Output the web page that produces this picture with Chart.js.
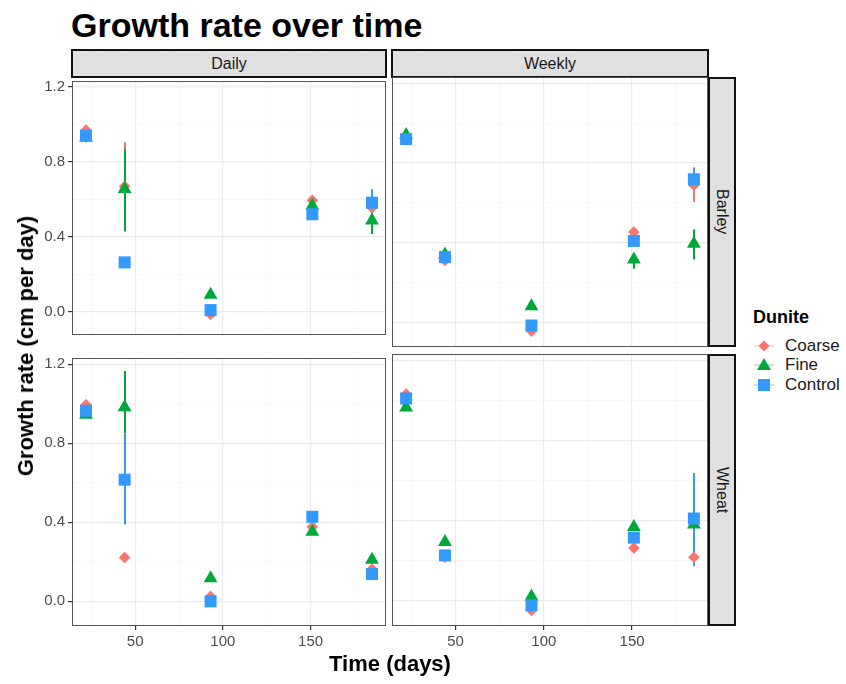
<!DOCTYPE html>
<html>
<head>
<meta charset="utf-8">
<script src="https://cdn.jsdelivr.net/npm/chart.js@4.4.1/dist/chart.umd.min.js"></script>
<style>
  body { margin: 0; background: #fff; font-family: "Liberation Sans", Arial, sans-serif; }
  #wrap { position: relative; width: 846px; height: 684px; overflow: hidden; }
  canvas { position: absolute; }
  .txt { position: absolute; white-space: nowrap; color: #000; }
  .title { left: 71px; top: 8px; font-size: 34px; line-height: 34px; font-weight: bold; }
  .strip { position: absolute; box-sizing: border-box; background: #E0E0E0; border: 2px solid #111;
           display: flex; align-items: center; justify-content: center; font-size: 16px; color: #1a1a1a; }
  .strip.side { writing-mode: vertical-rl; }
  .ytitle { left: 26px; top: 346px; font-size: 22px; font-weight: bold;
            transform: translate(-50%, -50%) rotate(-90deg); }
  .xtitle { left: 390px; top: 664px; font-size: 22px; font-weight: bold; transform: translate(-50%, -50%); }
  .legtitle { left: 753px; top: 306px; font-size: 18px; line-height: 22px; font-weight: bold; }
  .legrow { position: absolute; left: 752px; height: 20px; }
  .legrow svg { position: absolute; left: 0; top: 0; }
  .legrow span { position: absolute; left: 33px; top: 0; line-height: 20px; font-size: 17px; color: #1a1a1a; white-space: nowrap; }
</style>
</head>
<body>
<div id="wrap">
  <div class="txt title">Growth rate over time</div>

  <div class="strip" style="left:71px; top:49px; width:316px; height:29px;">Daily</div>
  <div class="strip" style="left:391px; top:49px; width:318px; height:29px;">Weekly</div>
  <div class="strip side" style="left:708px; top:77px; width:28px; height:270px;">Barley</div>
  <div class="strip side" style="left:708px; top:354px; width:28px; height:272px;">Wheat</div>

  <canvas id="dailyBarley"></canvas>
  <canvas id="weeklyBarley"></canvas>
  <canvas id="dailyWheat"></canvas>
  <canvas id="weeklyWheat"></canvas>

  <div class="txt ytitle">Growth rate (cm per day)</div>
  <div class="txt xtitle">Time (days)</div>

  <div class="txt legtitle">Dunite</div>
  <div id="legend"></div>
</div>

<script>
// 측정 시점 (days)
const days = [22, 44, 93, 151, 185];
const seriesNames = ['Coarse', 'Fine', 'Control'];
const seriesColors = ['#F8766D', '#00A83A', '#3399FF'];

// 축 눈금
const yGridTicks = [0, 0.2, 0.4, 0.6, 0.8, 1.0, 1.2];
const yLabelTicks = [0, 0.4, 0.8, 1.2];
const xGridTicks = [25, 50, 75, 100, 125, 150, 175];
const xLabelTicks = [50, 100, 150];

// Daily / Barley
const dailyBarleyCoarse = [0.97, 0.67, -0.015, 0.595, 0.555];
const dailyBarleyFine = [0.93, 0.655, 0.09, 0.565, 0.487];
const dailyBarleyControl = [0.94, 0.263, 0.008, 0.52, 0.582];
// Weekly / Barley
const weeklyBarleyCoarse = [0.925, 0.31, -0.045, 0.453, 0.688];
const weeklyBarleyFine = [0.94, 0.34, 0.08, 0.315, 0.394];
const weeklyBarleyControl = [0.92, 0.327, -0.017, 0.408, 0.718];
// Daily / Wheat
const dailyWheatCoarse = [0.995, 0.222, 0.025, 0.378, 0.163];
const dailyWheatFine = [0.945, 0.982, 0.117, 0.352, 0.21];
const dailyWheatControl = [0.965, 0.616, 0.0, 0.428, 0.138];
// Weekly / Wheat
const weeklyWheatCoarse = [1.032, 0.218, -0.047, 0.264, 0.218];
const weeklyWheatFine = [0.965, 0.294, 0.022, 0.369, 0.381];
const weeklyWheatControl = [1.01, 0.227, -0.022, 0.316, 0.411];

// 오차 막대 [low, high] (보이지 않으면 null)
const dailyBarleyCoarseErr = [null, [0.44, 0.905], null, null, null];
const dailyBarleyFineErr = [[0.905, 0.95], [0.428, 0.872], null, null, [0.414, 0.53]];
const dailyBarleyControlErr = [null, null, null, null, [0.55, 0.654]];
const weeklyBarleyCoarseErr = [null, null, null, null, [0.604, 0.72]];
const weeklyBarleyFineErr = [null, null, null, [0.268, 0.34], [0.315, 0.465]];
const weeklyBarleyControlErr = [null, null, null, null, [0.69, 0.777]];
const dailyWheatCoarseErr = [null, null, null, null, null];
const dailyWheatFineErr = [null, [0.85, 1.166], null, null, null];
const dailyWheatControlErr = [null, [0.389, 0.85], null, null, null];
const weeklyWheatCoarseErr = [null, null, null, null, [0.173, 0.26]];
const weeklyWheatFineErr = [null, null, null, null, null];
const weeklyWheatControlErr = [null, null, null, null, [0.176, 0.638]];

const pointStyles = ['rectRot', 'triangle', 'rect'];
const pointSizes = [5.8, 8, 8.5];

// 오차 막대 플러그인
const errorBars = {
    id: 'errorBars',
    beforeDatasetsDraw(chart) {
        const ctx = chart.ctx;
        const xs = chart.scales.x, ys = chart.scales.y;
        ctx.save();
        chart.data.datasets.forEach(ds => {
            ds.err.forEach((e, j) => {
                if (!e) return;
                const px = Math.round(xs.getPixelForValue(days[j]));
                ctx.strokeStyle = ds.backgroundColor;
                ctx.lineWidth = 2;
                ctx.beginPath();
                ctx.moveTo(px, ys.getPixelForValue(e[0]));
                ctx.lineTo(px, ys.getPixelForValue(e[1]));
                ctx.stroke();
            });
        });
        ctx.restore();
    }
};

// 패널 테두리
const panelBorder = {
    id: 'panelBorder',
    afterDraw(chart) {
        const a = chart.chartArea, ctx = chart.ctx;
        ctx.save();
        ctx.strokeStyle = '#555';
        ctx.lineWidth = 1;
        ctx.strokeRect(Math.round(a.left) + 0.5, Math.round(a.top) + 0.5,
                       Math.round(a.right - a.left) - 1, Math.round(a.bottom - a.top) - 1);
        ctx.restore();
    }
};

function makePanel(id, rect, showY, showX, values, errs) {
    const axisW = showY ? 42 : 0;
    const axisH = showX ? 28 : 0;
    const padTop = 8, padRight = 2;
    const w = rect.w + axisW + padRight;
    const h = rect.h + padTop + axisH;
    const cv = document.getElementById(id);
    cv.style.left = (rect.x - axisW) + 'px';
    cv.style.top = (rect.y - padTop) + 'px';
    cv.width = w; cv.height = h;
    cv.style.width = w + 'px'; cv.style.height = h + 'px';

    const majorX = v => xLabelTicks.includes(v);
    const majorY = v => yLabelTicks.includes(v);

    new Chart(cv, {
        type: 'scatter',
        data: {
            datasets: values.map((vals, i) => ({
                label: seriesNames[i],
                data: days.map((d, j) => ({ x: d, y: vals[j] })),
                err: errs[i],
                backgroundColor: seriesColors[i],
                borderWidth: 0,
                pointStyle: pointStyles[i],
                pointRadius: pointSizes[i],
                pointHoverRadius: pointSizes[i],
                order: 3 - i
            }))
        },
        options: {
            responsive: false,
            animation: false,
            events: [],
            layout: { autoPadding: false, padding: { top: padTop, right: padRight, left: 0, bottom: 0 } },
            plugins: { legend: { display: false }, tooltip: { enabled: false } },
            scales: {
                x: {
                    type: 'linear', min: 14, max: 193,
                    afterBuildTicks: a => { a.ticks = xGridTicks.map(v => ({ value: v })); },
                    afterFit: a => { a.height = axisH; },
                    border: { display: false },
                    grid: {
                        drawTicks: showX, tickLength: 4,
                        color: c => majorX(c.tick.value) ? '#EBEBEB' : '#F4F4F4',
                        lineWidth: c => majorX(c.tick.value) ? 1.2 : 0.7,
                        tickColor: c => majorX(c.tick.value) ? '#333' : 'rgba(0,0,0,0)'
                    },
                    ticks: {
                        display: showX, autoSkip: false, maxRotation: 0, padding: 3,
                        color: '#4D4D4D', font: { family: '"Liberation Sans", Arial', size: 15 },
                        callback: v => majorX(v) ? String(v) : ''
                    }
                },
                y: {
                    type: 'linear', min: -0.125, max: 1.232,
                    afterBuildTicks: a => { a.ticks = yGridTicks.map(v => ({ value: v })); },
                    afterFit: a => { a.width = axisW; },
                    border: { display: false },
                    grid: {
                        drawTicks: showY, tickLength: 4,
                        color: c => majorY(c.tick.value) ? '#EBEBEB' : '#F4F4F4',
                        lineWidth: c => majorY(c.tick.value) ? 1.2 : 0.7,
                        tickColor: c => majorY(c.tick.value) ? '#333' : 'rgba(0,0,0,0)'
                    },
                    ticks: {
                        display: showY, autoSkip: false, padding: 3,
                        color: '#4D4D4D', font: { family: '"Liberation Sans", Arial', size: 15 },
                        callback: v => majorY(v) ? v.toFixed(1) : ''
                    }
                }
            }
        },
        plugins: [errorBars, panelBorder]
    });
}

makePanel('dailyBarley', { x: 72, y: 77, w: 314, h: 270 }, true, false,
    [dailyBarleyCoarse, dailyBarleyFine, dailyBarleyControl],
    [dailyBarleyCoarseErr, dailyBarleyFineErr, dailyBarleyControlErr]);
makePanel('weeklyBarley', { x: 392, y: 77, w: 316, h: 270 }, false, false,
    [weeklyBarleyCoarse, weeklyBarleyFine, weeklyBarleyControl],
    [weeklyBarleyCoarseErr, weeklyBarleyFineErr, weeklyBarleyControlErr]);
makePanel('dailyWheat', { x: 72, y: 354, w: 314, h: 272 }, true, true,
    [dailyWheatCoarse, dailyWheatFine, dailyWheatControl],
    [dailyWheatCoarseErr, dailyWheatFineErr, dailyWheatControlErr]);
makePanel('weeklyWheat', { x: 392, y: 354, w: 316, h: 272 }, false, true,
    [weeklyWheatCoarse, weeklyWheatFine, weeklyWheatControl],
    [weeklyWheatCoarseErr, weeklyWheatFineErr, weeklyWheatControlErr]);

// 범례
const legendShapes = [
    '<polygon points="12,4.5 17.5,10 12,15.5 6.5,10"/>',
    '<polygon points="12,3 19,15 5,15"/>',
    '<rect x="6" y="4" width="12" height="12"/>'
];
const legendTop = [336, 355, 375];
const legendEl = document.getElementById('legend');
seriesNames.forEach((name, i) => {
    const row = document.createElement('div');
    row.className = 'legrow';
    row.style.top = legendTop[i] + 'px';
    row.innerHTML =
        '<svg width="24" height="20"><line x1="2" y1="10" x2="22" y2="10" stroke="' + seriesColors[i] +
        '" stroke-opacity="0.5" stroke-width="1"/><g fill="' + seriesColors[i] + '">' + legendShapes[i] +
        '</g></svg><span>' + name + '</span>';
    legendEl.appendChild(row);
});
</script>
</body>
</html>
